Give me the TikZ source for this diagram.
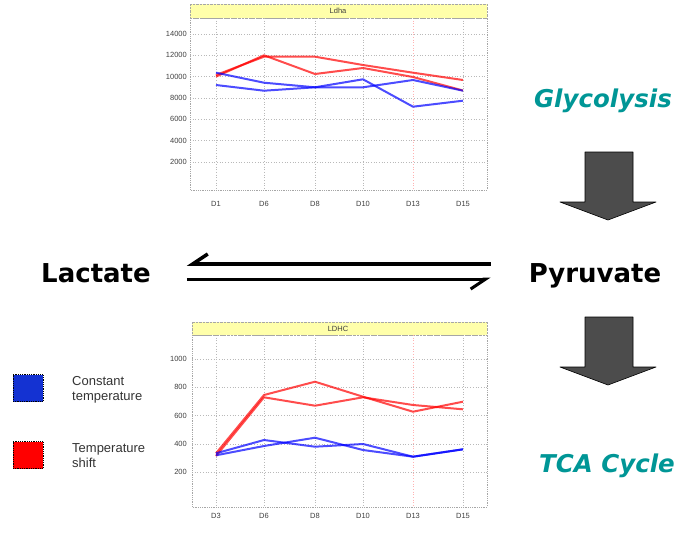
\documentclass[tikz,border=0pt]{standalone}
\usepackage{fontspec}
\setmainfont{Liberation Sans}
\newfontfamily\headfont{DejaVu Sans}
\usepackage{xcolor}
\usetikzlibrary{arrows.meta}

\definecolor{tealtext}{RGB}{0,150,150}
\definecolor{chartbar}{RGB}{255,255,170}
\definecolor{legblue}{RGB}{20,50,210}

\begin{document}
\begin{tikzpicture}[x=1pt, y=-1pt,
  frame/.style={draw=gray!70, densely dotted, line width=0.8pt},
  gridline/.style={draw=gray!55, dotted, line width=0.7pt},
  cursor/.style={draw=red!30, dotted, line width=0.7pt},
  titlebar/.style={draw=gray!70, densely dotted, fill=chartbar},
  tick/.style={font=\fontsize{7.5}{8}\selectfont, text=gray!50!black, inner sep=1pt},
  redline/.style={red, opacity=0.7, line width=2pt, line join=round},
  blueline/.style={blue, opacity=0.7, line width=2pt, line join=round},
  metab/.style={font=\headfont\bfseries\fontsize{26}{28}\selectfont,
                inner sep=0pt, anchor=base},
  pathway/.style={font=\headfont\bfseries\itshape\fontsize{24.5}{26}\selectfont,
                  text=tealtext, inner sep=0pt},
  legbox/.style={draw=black, densely dotted, line width=0.8pt,
                 minimum width=30pt, minimum height=27pt, inner sep=0pt},
  legtext/.style={font=\fontsize{13}{15}\selectfont, text=black!80,
                  align=left, anchor=west, inner sep=0pt},
  blockarrow/.style={fill=black!70, draw=black, line width=0.6pt, line join=round}]

  \useasboundingbox (0,0) rectangle (685,536);

  %% Upper chart (Ldha)
  \draw[titlebar] (190,4) rectangle (487,18);
  \node[tick] (ldha) at (338,11) {Ldha};
  \foreach \x in {216,264,315,363,463}
    \draw[gridline] (\x,18) -- (\x,190);
  \draw[cursor] (413,18) -- (413,190);
  \foreach \y/\v in {34/14000, 55.3/12000, 76.6/10000, 98/8000,
                     119.3/6000, 140.6/4000, 162/2000} {
    \draw[gridline] (190,\y) -- (487,\y);
    \node[tick, anchor=east] (ta\v) at (188,\y) {\v};
  }
  \draw[frame] (190,18) rectangle (487,190);
  \foreach \x/\d in {216/D1, 264/D6, 315/D8, 363/D10, 413/D13, 463/D15}
    \node[tick] (xa\d) at (\x,204) {\d};

  \draw[redline] (216,76.6) -- (264,55.3) -- (315,74) -- (363,68)
    -- (413,77) -- (463,90.5);
  \draw[redline] (216,75) -- (264,56.7) -- (315,56.7) -- (363,65)
    -- (413,72.7) -- (463,80);
  \draw[blueline] (216,72.7) -- (264,82.7) -- (315,87.3) -- (363,79.3)
    -- (413,106.7) -- (463,100.7);
  \draw[blueline] (216,85) -- (264,90.7) -- (315,87.3) -- (363,87.3)
    -- (413,80) -- (463,90.7);

  %% Lower chart (LDHC)
  \draw[titlebar] (192,322) rectangle (487,335);
  \node[tick] (ldhc) at (338,328.5) {LDHC};
  \foreach \x in {216,264,315,363,463}
    \draw[gridline] (\x,335) -- (\x,507);
  \draw[cursor] (413,335) -- (413,507);
  \foreach \y/\v in {359/1000, 387.3/800, 415.7/600, 444/400, 472.3/200} {
    \draw[gridline] (192,\y) -- (487,\y);
    \node[tick, anchor=east] (tb\v) at (188,\y) {\v};
  }
  \draw[frame] (192,335) rectangle (487,507);
  \foreach \x/\d in {216/D3, 264/D6, 315/D8, 363/D10, 413/D13, 463/D15}
    \node[tick] (xb\d) at (\x,516) {\d};

  \draw[redline] (216,453.3) -- (264,395) -- (315,381.7) -- (363,396.7)
    -- (413,411.7) -- (463,401.7);
  \draw[redline] (216,456) -- (264,397.3) -- (315,405.7) -- (363,397.3)
    -- (413,405) -- (463,409.3);
  \draw[blueline] (216,453.3) -- (264,440) -- (315,446.7) -- (363,444)
    -- (413,456.7) -- (463,449.3);
  \draw[blueline] (216,455.3) -- (264,446) -- (315,437.7) -- (363,450)
    -- (413,456.7) -- (463,449.3);

  %% Legend
  \node[legbox, fill=legblue] (constbox) at (28,388) {};
  \node[legtext] (consttext) at (72,390) {Constant\\temperature};
  \node[legbox, fill=red] (shiftbox) at (28,455) {};
  \node[legtext] (shifttext) at (72,456) {Temperature\\shift};

  %% Metabolites and pathways
  \node[metab] (lac) at (96,282) {Lactate};
  \node[metab] (pyr) at (595,282) {Pyruvate};
  \node[pathway] (gly) at (603,101) {Glycolysis};
  \node[pathway] (tca) at (607,466) {TCA Cycle};

  %% Equilibrium harpoons
  \draw[line width=3.5pt, {Straight Barb[right, length=15pt, width=20pt]}-]
    ([shift={(36,-18)}]lac.base east) -- ([shift={(-38,-18)}]pyr.base west);
  \draw[line width=3pt, -{Straight Barb[right, length=15pt, width=20pt]}]
    ([shift={(36,-3)}]lac.base east) -- ([shift={(-38,-3)}]pyr.base west);

  %% Block arrows
  \foreach \t/\b/\p in {152/202/220, 317/367/385}
    \draw[blockarrow] (585,\t) -- (633,\t) -- (633,\b) -- (656,\b)
      -- (608,\p) -- (560,\b) -- (585,\b) -- cycle;

\end{tikzpicture}
\end{document}
